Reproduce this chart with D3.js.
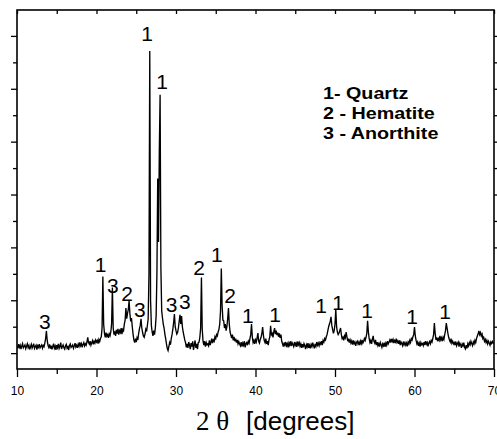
<!DOCTYPE html>
<html>
<head>
<meta charset="utf-8">
<script src="https://cdn.jsdelivr.net/npm/d3@7/dist/d3.min.js"></script>
<style>
  html, body { margin: 0; padding: 0; background: #fff; }
  svg { display: block; }
</style>
</head>
<body>
<script>
// ---------------- DATA ----------------
const scanStart = 10;      // 2θ of first sample
const scanStep = 0.1;      // 2θ step between samples
// intensity (a.u.), one row per degree, 10.0 ... 69.9, then 70.0
const intensity = [
  28,18,34,22,30,15,27,36,20,25,
  31,17,26,35,21,29,14,24,33,19,
  27,36,18,25,30,13,28,22,34,20,
  26,31,19,29,24,38,55,84,48,30,
  22,33,17,28,14,25,36,19,27,12,
  30,21,35,18,26,40,16,24,31,20,
  15,28,33,19,24,12,29,35,22,26,
  31,18,27,38,23,30,20,34,26,41,
  28,36,22,33,40,27,35,30,42,60,
  40,34,45,30,39,47,33,45,38,50,
  42,48,36,52,44,55,62,95,290,110,
  75,60,78,64,70,58,73,66,80,110,
  248,95,70,82,65,88,74,92,70,85,
  78,95,72,90,85,110,125,171,130,150,
  165,198,150,120,133,100,72,50,40,55,
  42,58,50,75,92,105,130,95,78,65,
  60,72,90,82,105,130,300,1143,200,105,
  80,65,85,70,95,140,300,661,420,760,
  977,320,160,133,110,95,72,55,35,18,
  10,25,40,32,55,70,90,115,148,100,
  85,72,78,95,120,145,110,140,100,80,
  65,50,40,22,35,20,42,30,15,38,
  25,45,12,30,48,20,35,15,40,42,
  60,95,286,90,45,30,45,25,40,32,
  35,28,48,30,42,55,38,50,45,62,
  55,70,65,80,90,110,160,320,180,125,
  122,95,110,85,100,130,171,110,80,68,
  57,70,48,62,45,55,40,50,35,44,
  35,28,42,25,38,30,45,22,36,40,
  30,45,38,55,70,110,60,40,48,35,
  50,42,58,76,45,38,52,60,75,99,
  65,48,40,55,35,45,30,50,62,103,
  70,75,60,80,95,72,85,68,78,62,
  75,58,70,45,35,25,40,30,42,28,
  36,22,38,30,45,27,40,33,25,42,
  30,38,24,44,32,40,26,35,20,34,
  22,36,28,15,32,24,38,20,30,18,
  33,25,40,28,18,35,26,42,30,38,
  28,40,34,45,30,48,42,55,50,62,
  70,85,100,110,120,137,105,90,75,85,
  110,165,100,80,70,75,85,95,70,55,
  60,48,65,58,80,62,45,55,40,50,
  38,46,32,48,36,42,28,40,45,34,
  42,30,45,36,50,38,44,55,48,60,
  75,122,80,55,40,48,35,52,65,45,
  38,50,30,42,28,36,25,40,32,22,
  35,28,40,24,38,30,45,35,42,50,
  40,54,44,52,38,48,42,55,40,46,
  35,48,30,42,36,28,44,32,40,30,
  38,26,42,35,48,40,55,50,62,70,
  99,65,48,35,42,28,38,25,40,32,
  36,28,42,30,45,34,40,26,38,44,
  35,48,42,55,70,114,75,50,60,45,
  55,48,65,50,58,45,60,52,70,85,
  114,95,75,60,50,42,55,38,45,35,
  40,30,44,28,36,42,25,38,32,20,
  35,28,40,22,16,30,18,35,27,40,
  32,45,36,28,42,35,48,40,55,65,
  72,84,70,78,65,72,55,60,45,52,
  40,48,35,45,38,30,42,36,44,38,
  40
];

// peak annotations: phase number, 2θ (label centre), intensity (label baseline)
const peakLabelText  = ["3","1","3","2","3","1","1","3","3","2","1","2","1","1","1","1","1","1","1"];
const peakLabelTheta = [13.5,20.5,22.05,23.85,25.45,26.35,28.25,29.45,31.1,32.9,35.15,36.8,39.05,42.45,48.25,50.4,54.05,59.7,63.85];
const peakLabelInt   = [90,306,226,196,136,1180,998,155,166,295,345,188,113,116,151,162,132,109,128];

const legendLines = ["1- Quartz", "2 - Hematite", "3 - Anorthite"];

const xDomain = [10, 70];
const xMajorTicks = [10, 20, 30, 40, 50, 60, 70];
const xMinorTicks = [15, 25, 35, 45, 55, 65];
const yDomain = [-60, 1298];
const yMajorTicks = [0, 200, 400, 600, 800, 1000, 1200];
const yMinorTicks = [100, 300, 500, 700, 900, 1100];

// ---------------- LAYOUT ----------------
const W = 497, H = 439;
const L = 17, R = 494, T = 10, B = 369;

const svg = d3.select("body").append("svg")
  .attr("width", W).attr("height", H);

const x = d3.scaleLinear().domain(xDomain).range([L, R]);
const y = d3.scaleLinear().domain(yDomain).range([B, T]);

const pts = intensity.map((v, i) => [scanStart + i * scanStep, v]);

svg.append("clipPath").attr("id", "clip")
  .append("rect").attr("x", L).attr("y", T).attr("width", R - L).attr("height", B - T);

svg.append("path")
  .datum(pts)
  .attr("clip-path", "url(#clip)")
  .attr("fill", "none")
  .attr("stroke", "#000")
  .attr("stroke-width", 1.35)
  .attr("stroke-linejoin", "miter")
  .attr("d", d3.line().x(d => x(d[0])).y(d => y(d[1])));

// axes
const axStyle = g => {
  g.select(".domain").remove();
  g.selectAll("line").attr("stroke", "#000").attr("stroke-width", 1.3);
  g.selectAll("text").remove();
};

// bottom: major ticks with labels
const bottomMajor = svg.append("g").attr("transform", `translate(0,${B})`)
  .call(d3.axisBottom(x).tickValues(xMajorTicks).tickSize(8).tickFormat(d3.format("d")));
bottomMajor.select(".domain").remove();
bottomMajor.selectAll("line").attr("stroke", "#000").attr("stroke-width", 1.3);
bottomMajor.selectAll("text")
  .attr("font-family", "'Liberation Sans', Arial, sans-serif")
  .attr("font-size", 12).attr("fill", "#000").attr("dy", null).attr("y", 26);

svg.append("g").attr("transform", `translate(0,${B})`)
  .call(d3.axisBottom(x).tickValues(xMinorTicks).tickSize(5)).call(axStyle);

// top: inward ticks
svg.append("g").attr("transform", `translate(0,${T})`)
  .call(d3.axisBottom(x).tickValues(xMajorTicks.concat(xMinorTicks)).tickSize(4)).call(axStyle);

// left: outward ticks
svg.append("g").attr("transform", `translate(${L},0)`)
  .call(d3.axisLeft(y).tickValues(yMajorTicks).tickSize(6)).call(axStyle);
svg.append("g").attr("transform", `translate(${L},0)`)
  .call(d3.axisLeft(y).tickValues(yMinorTicks).tickSize(4)).call(axStyle);

// right: outward ticks
svg.append("g").attr("transform", `translate(${R},0)`)
  .call(d3.axisRight(y).tickValues(yMajorTicks).tickSize(6)).call(axStyle);
svg.append("g").attr("transform", `translate(${R},0)`)
  .call(d3.axisRight(y).tickValues(yMinorTicks).tickSize(4)).call(axStyle);

// frame
svg.append("rect")
  .attr("x", L).attr("y", T).attr("width", R - L).attr("height", B - T)
  .attr("fill", "none").attr("stroke", "#000").attr("stroke-width", 1.6);

// peak labels
svg.append("g").selectAll("text")
  .data(peakLabelText.map((t, i) => ({ t, th: peakLabelTheta[i], v: peakLabelInt[i] })))
  .join("text")
  .attr("x", d => x(d.th)).attr("y", d => y(d.v))
  .attr("text-anchor", "middle")
  .attr("font-family", "'Liberation Sans', Arial, sans-serif")
  .attr("font-size", 21)
  .attr("fill", "#000")
  .text(d => d.t);

// legend
const leg = svg.append("g").attr("transform", "translate(323,0) scale(1.16,1)");
leg.selectAll("text").data(legendLines).join("text")
  .attr("x", 0).attr("y", (d, i) => 99 + i * 20)
  .attr("font-family", "'Liberation Sans', Arial, sans-serif")
  .attr("font-weight", "bold")
  .attr("font-size", 17)
  .attr("fill", "#000")
  .text(d => d);

// x-axis title
svg.append("text")
  .attr("x", 196).attr("y", 430)
  .attr("font-family", "'Liberation Serif', 'Times New Roman', serif")
  .attr("font-size", 27).attr("fill", "#000")
  .text("2 θ");
svg.append("text")
  .attr("x", 246).attr("y", 430)
  .attr("font-family", "'Liberation Sans', Arial, sans-serif")
  .attr("font-size", 26).attr("fill", "#000")
  .text("[degrees]");
</script>
</body>
</html>
